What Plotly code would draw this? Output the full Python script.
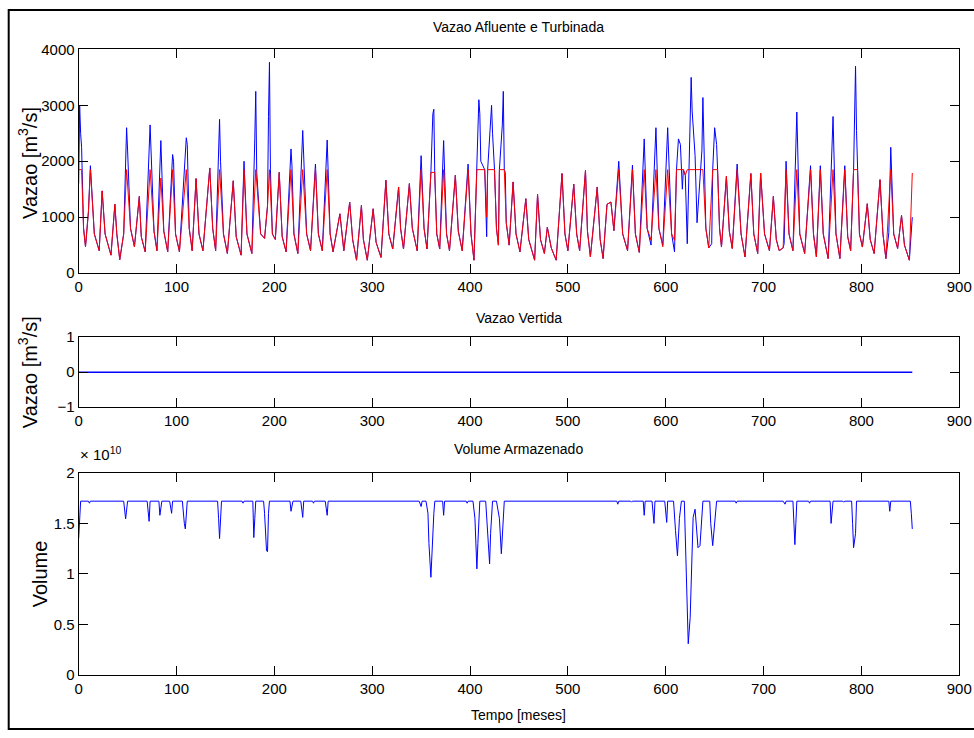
import plotly.graph_objects as go

# ---------------- data ----------------
# Vazao turbinada (red) - vertices (month, m3/s)
turb_x = [0, 3, 5, 7, 10, 12, 16, 21, 24, 27, 33, 37, 39, 42, 46, 49, 53, 57, 62, 64, 68,
          73, 77, 80, 84, 87, 91, 96, 99, 103, 110, 113, 116, 120, 123, 127, 134, 137, 140,
          144, 148, 152, 158, 161, 166, 169, 172, 177, 181, 186, 190, 193, 195, 198, 201,
          205, 208, 212, 217, 220, 224, 229, 233, 237, 242, 245, 249, 254, 257, 260, 267, 271,
          277, 280, 284, 289, 291, 295, 301, 304, 309, 314, 317, 321, 327, 329, 332, 338, 341, 346,
          350, 353, 356, 360, 364, 366, 369, 373, 376, 379, 385, 388, 392, 398, 401, 404,
          407, 415, 417, 418, 425, 427, 429, 430, 435, 437, 440, 444, 447, 451, 457, 460, 466,
          469, 472, 476, 479, 483, 488, 494, 497, 500, 506, 509, 512, 518, 520, 523, 530, 533, 536,
          540, 544, 547, 552, 556, 561, 566, 569, 573, 578, 581, 585, 590, 593, 597, 602, 606, 609,
          611, 618, 620, 622, 638, 641, 644, 648, 653, 655, 657, 662, 665, 668, 673, 677, 681,
          687, 690, 694, 697, 701, 706, 710, 713, 716, 720, 723, 726, 730, 734, 737, 742,
          748, 751, 754, 758, 761, 766, 771, 774, 778, 783, 786, 789, 792, 796, 798, 801,
          806, 809, 813, 819, 822, 825, 830, 833, 837, 841, 844, 849, 852]
turb_y = [1850, 1850, 800, 470, 1100, 1850, 700, 400, 1470, 700, 320, 1230, 700, 240, 700, 1850, 800, 470, 1370, 650, 380,
          1850, 750, 400, 1700, 750, 380, 1850, 700, 380, 1850, 800, 400, 1690, 700, 400, 1880, 800, 400,
          1850, 700, 350, 1650, 650, 320, 1850, 700, 350, 1850, 700, 620, 1200, 1850, 700, 600,
          1800, 650, 380, 1850, 700, 350, 1850, 700, 400, 1870, 700, 400, 1850, 700, 380, 1060, 400,
          1270, 600, 230, 1210, 600, 230, 1150, 550, 280, 1660, 700, 430, 1540, 800, 430, 1600, 800, 400,
          1850, 800, 430, 1800, 1800, 700, 430, 1850, 700, 400, 1750, 750, 400, 1850, 700, 230,
          1850, 1850, 1000, 1850, 1850, 800, 500, 1850, 1850, 900, 500, 1630, 700, 380, 1330, 600, 230,
          1410, 600, 350, 820, 450, 230, 1780, 700, 400, 1590, 700, 400, 1840, 750, 290, 1540, 600, 260,
          1230, 1270, 760, 1850, 700, 400, 1850, 700, 370, 1850, 800, 585, 1850, 800, 470, 1850, 700, 585,
          1850, 1850, 1750, 1850, 1850, 800, 450, 1850, 1850, 800, 465, 1730, 750, 440, 1850, 700, 290,
          1780, 700, 350, 1790, 700, 400, 1370, 600, 400, 450, 1850, 700, 400, 1850, 700, 350,
          1850, 700, 290, 1850, 700, 260, 1850, 700, 260, 1850, 650, 400, 1850, 1850, 700, 465,
          1240, 600, 350, 1670, 700, 260, 1850, 700, 440, 1030, 500, 230, 1790]

# Vazao afluente (blue) - where it differs from the turbined flow
aflu_extra_x = [0, 1, 2, 3, 12, 49, 50, 73, 74, 84, 96, 97, 110, 111, 144, 145, 169,
                180, 181, 182, 194, 195, 196, 217, 218, 229, 242, 254, 350, 362, 363, 364,
                373, 398, 409, 410, 411, 417, 422, 423, 433, 434, 436, 552, 566, 578, 585,
                590, 597, 602, 609, 613, 615, 617, 622, 626, 627, 630, 632, 637, 638,
                647, 650, 652, 673, 721, 723, 734, 748, 758, 771, 783, 794, 795, 828, 830, 852]
aflu_extra_y = [1600, 3000, 2500, 2250, 1920, 2600, 2200, 2650, 2100, 2370, 2120, 2000, 2420, 2300, 2750, 2000, 2000,
                2400, 3250, 1800, 2800, 3770, 1850, 2220, 1920, 2550, 1950, 2380, 2100, 2850, 2930, 1700,
                2370, 1950, 3100, 2850, 2000, 650, 3000, 2500, 2650, 3250, 1800, 2000, 1930, 2400, 500,
                2600, 500, 2600, 380, 2400, 2300, 1500, 525, 3500, 2900, 2100, 900, 2200, 3140,
                525, 2600, 2300, 1950, 525, 2000, 2880, 1920, 1920, 2800, 1920, 3700, 2550, 720, 2250, 1000]

# Vazao vertida
vert_x = [0, 852]
vert_y = [0, 0]

# Volume armazenado (m3)
vol_x = [0, 2, 10, 11, 12, 46, 48, 50, 70, 72, 73, 82, 83, 85, 93, 95, 96, 106, 108, 109, 111,
         142, 143, 144, 146, 167, 168, 169, 178, 179, 180, 181, 189, 190, 192, 193, 194, 195,
         216, 217, 219, 227, 229, 230, 239, 240, 241, 252, 254, 255, 348, 350, 351,
         355, 357, 358, 360, 361, 363, 364, 372, 373, 374, 396, 397, 398,
         403, 405, 407, 408, 410, 416, 418, 420, 421, 423, 427, 430, 432, 433, 435,
         550, 551, 552, 564, 565, 566, 577, 578, 579, 586, 588, 589, 599, 601, 602,
         608, 610, 612, 614, 616, 619, 621, 622, 623, 625, 626, 627, 628, 630, 632, 633, 635, 637, 638,
         645, 646, 648, 650, 652, 671, 672, 673, 720, 722, 723, 730, 732, 733, 734,
         746, 747, 748, 768, 769, 771, 781, 782, 783, 790, 791, 792, 794, 795,
         828, 829, 830, 850, 851, 852]
vol_y = [1.35e10, 1.72e10, 1.72e10, 1.70e10, 1.72e10, 1.72e10, 1.545e10, 1.72e10, 1.72e10, 1.52e10, 1.72e10,
         1.72e10, 1.58e10, 1.72e10, 1.72e10, 1.60e10, 1.72e10, 1.72e10, 1.50e10, 1.445e10, 1.72e10,
         1.72e10, 1.55e10, 1.35e10, 1.72e10, 1.72e10, 1.70e10, 1.72e10, 1.72e10, 1.36e10, 1.55e10, 1.72e10,
         1.72e10, 1.60e10, 1.23e10, 1.22e10, 1.60e10, 1.72e10,
         1.72e10, 1.62e10, 1.72e10, 1.72e10, 1.56e10, 1.72e10, 1.72e10, 1.70e10, 1.72e10, 1.72e10, 1.58e10, 1.72e10,
         1.72e10, 1.667e10, 1.72e10,
         1.72e10, 1.60e10, 1.30e10, 0.967e10, 1.25e10, 1.60e10, 1.72e10, 1.72e10, 1.58e10, 1.72e10,
         1.72e10, 1.70e10, 1.72e10,
         1.72e10, 1.55e10, 1.05e10, 1.30e10, 1.72e10, 1.72e10, 1.40e10, 1.10e10, 1.40e10, 1.72e10,
         1.72e10, 1.55e10, 1.20e10, 1.40e10, 1.72e10,
         1.72e10, 1.69e10, 1.72e10, 1.72e10, 1.71e10, 1.72e10, 1.72e10, 1.58e10, 1.72e10,
         1.72e10, 1.50e10, 1.72e10, 1.72e10, 1.51e10, 1.72e10,
         1.72e10, 1.43e10, 1.18e10, 1.55e10, 1.72e10, 1.72e10, 1.02e10, 0.44e10, 0.31e10, 0.57e10,
         1.00e10, 1.33e10, 1.56e10, 1.64e10, 1.40e10, 1.26e10, 1.28e10, 1.60e10, 1.72e10,
         1.72e10, 1.50e10, 1.28e10, 1.55e10, 1.72e10, 1.72e10, 1.70e10, 1.72e10,
         1.72e10, 1.69e10, 1.72e10, 1.72e10, 1.29e10, 1.50e10, 1.72e10,
         1.72e10, 1.70e10, 1.72e10, 1.72e10, 1.50e10, 1.72e10, 1.72e10, 1.71e10, 1.72e10,
         1.72e10, 1.50e10, 1.26e10, 1.40e10, 1.72e10,
         1.72e10, 1.62e10, 1.72e10, 1.72e10, 1.60e10, 1.445e10]

x_ticks = [0, 100, 200, 300, 400, 500, 600, 700, 800, 900]
vol_ticks = [0, 0.5e10, 1e10, 1.5e10, 2e10]
vol_ticktext = ["0", "0.5", "1", "1.5", "2"]

# build afluente series: turbined vertices, overridden / completed by its own values
aflu = dict(zip(turb_x, turb_y))
aflu.update(dict(zip(aflu_extra_x, aflu_extra_y)))
aflu_x = sorted(aflu)
aflu_y = [aflu[k] for k in aflu_x]

# ---------------- figure ----------------
W, H = 974, 738
TICKF = "Liberation Sans, Arial, sans-serif"
WIDE = "Liberation Sans, Arial, sans-serif"


def px_x(p):
    return ((p - 4.3) / 0.983) / W


def px_y(p):
    return 1 - ((p - 8.9) / 0.976) / H


fig = go.Figure()
fig.add_trace(go.Scatter(x=aflu_x, y=aflu_y, mode="lines", line=dict(color="#0000ff", width=1),
                         xaxis="x", yaxis="y", showlegend=False))
fig.add_trace(go.Scatter(x=turb_x, y=turb_y, mode="lines", line=dict(color="#ff0000", width=1),
                         xaxis="x", yaxis="y", showlegend=False))
fig.add_trace(go.Scatter(x=vert_x, y=vert_y, mode="lines", line=dict(color="#0000ff", width=1.5),
                         xaxis="x2", yaxis="y2", showlegend=False))
fig.add_trace(go.Scatter(x=vol_x, y=vol_y, mode="lines", line=dict(color="#0000ff", width=1),
                         xaxis="x3", yaxis="y3", showlegend=False))

xdom = [px_x(79), min(1.0, px_x(960))]
common_x = dict(range=[0, 900], tickvals=x_ticks, ticks="inside", ticklen=9, tickcolor="black",
                showline=True, linecolor="black", linewidth=1, mirror="ticks", showgrid=False,
                zeroline=False, domain=xdom, ticklabeloverflow="allow",
                tickfont=dict(family=TICKF, size=15, color="black"))
common_y = dict(ticks="inside", ticklen=9, tickcolor="black", showline=True, linecolor="black",
                linewidth=1, mirror="ticks", showgrid=False, zeroline=False,
                tickfont=dict(family=TICKF, size=15, color="black"))

fig.update_layout(
    width=W, height=H, margin=dict(l=0, r=0, t=0, b=0),
    paper_bgcolor="white", plot_bgcolor="white",
    xaxis=dict(common_x, anchor="y"),
    yaxis=dict(common_y, range=[0, 4000], tickvals=[0, 1000, 2000, 3000, 4000], anchor="x",
               domain=[px_y(272.7), px_y(49.3)]),
    xaxis2=dict(common_x, anchor="y2"),
    yaxis2=dict(common_y, range=[-1, 1], tickvals=[-1, 0, 1], anchor="x2",
                domain=[px_y(406.7), px_y(336.7)]),
    xaxis3=dict(common_x, anchor="y3"),
    yaxis3=dict(common_y, range=[0, 2e10], tickvals=vol_ticks, ticktext=vol_ticktext, anchor="x3",
                domain=[px_y(674.3), px_y(472.3)]),
)

ann_font = dict(family=WIDE, size=14, color="black")


def label(text, sx, sy, font, angle=0, xanchor="center"):
    fig.add_annotation(text=text, x=px_x(sx), y=px_y(sy), xref="paper", yref="paper",
                       xanchor=xanchor, yanchor="middle", showarrow=False, textangle=angle,
                       font=font)


label("Vazao Afluente e Turbinada", 519.5, 27, ann_font)
label("Vazao Vertida", 519.5, 318, ann_font)
label("Volume Armazenado", 519.5, 448, ann_font)
label("Tempo [meses]", 519.5, 714, ann_font)
ylab_font = dict(family=WIDE, size=20, color="black")
label("Vazao [m<sup>3</sup>/s]", 28, 163, ylab_font, angle=-90)
label("Vazao [m<sup>3</sup>/s]", 28, 372, ylab_font, angle=-90)
label("Volume", 40, 573, ylab_font, angle=-90)
label("× 10<sup>10</sup>", 78, 453, dict(family=WIDE, size=15, color="black"), xanchor="left")

# outer frame (kept inside the figure area)
fig.add_shape(type="rect", xref="paper", yref="paper", x0=max(px_x(9), 1 / W), x1=1.05,
              y0=1 / H, y1=1 - 1 / H, line=dict(color="black", width=2))

fig.write_html("out.html", config={"displayModeBar": False},
               post_script="document.body.style.margin='0px';"
                           "document.documentElement.style.overflow='hidden';")
